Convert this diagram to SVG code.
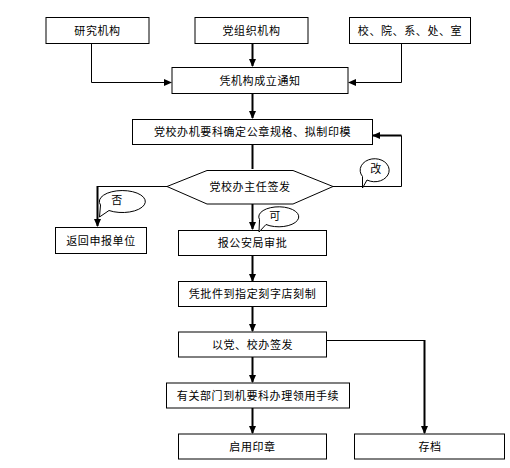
<svg xmlns="http://www.w3.org/2000/svg" width="510" height="468" viewBox="0 0 510 468">
<style>
.box{fill:#fff;stroke:#000;stroke-width:1}
.t{font-family:"Noto Sans CJK SC","Noto Sans CJK JP",sans-serif;font-size:11px;letter-spacing:0.6px;text-anchor:middle;fill:#000}
.thin{fill:none;stroke:#000;stroke-width:1}
.thick{fill:none;stroke:#000;stroke-width:2}
.bub{fill:#fff;stroke:#000;stroke-width:1}
</style>
<defs>
<marker id="ah" markerWidth="8" markerHeight="8" refX="7" refY="4" orient="auto" markerUnits="userSpaceOnUse">
<path d="M0,0.5 L8,4 L0,7.5 Z" fill="#000"/>
</marker>
</defs>
<rect width="510" height="468" fill="#fff"/>
<g id="connectors">
<path class="thin" d="M91.5,43 V82.5 H171" marker-end="url(#ah)"/>
<path class="thick" d="M252.5,43 V66" marker-end="url(#ah)"/>
<path class="thin" d="M401.5,43 V82.5 H349" marker-end="url(#ah)"/>
<path class="thick" d="M252.5,93 V118" marker-end="url(#ah)"/>
<path class="thick" d="M252.5,144 V169"/>
<path class="thin" d="M333,186.5 H401.5 V135.5"/>
<path class="thick" d="M401.5,135.5 H373" marker-end="url(#ah)"/>
<path class="thin" d="M167,186.5 H97.5"/>
<path class="thick" d="M97.5,186 V226" marker-end="url(#ah)"/>
<path class="thick" d="M252.5,204 V229" marker-end="url(#ah)"/>
<path class="thick" d="M252.5,256 V281" marker-end="url(#ah)"/>
<path class="thick" d="M252.5,306 V331" marker-end="url(#ah)"/>
<path class="thin" d="M326,340.5 H424.5"/>
<path class="thick" d="M424.5,340 V433" marker-end="url(#ah)"/>
<path class="thick" d="M252.5,357 V382" marker-end="url(#ah)"/>
<path class="thick" d="M252.5,408 V433" marker-end="url(#ah)"/>
</g>
<g id="n1"><rect class="box" x="46" y="17.5" width="103" height="26"/><text class="t" x="97.5" y="34.5">研究机构</text></g>
<g id="n2"><rect class="box" x="195" y="17.5" width="113" height="26"/><text class="t" x="251.5" y="34.5">党组织机构</text></g>
<g id="n3"><rect class="box" x="349.5" y="17.5" width="121" height="26"/><text class="t" x="410" y="34.5">校、院、系、处、室</text></g>
<g id="n4"><rect class="box" x="172" y="67.5" width="176" height="26"/><text class="t" x="260" y="84.5">凭机构成立通知</text></g>
<g id="n5"><rect class="box" x="132.5" y="119.5" width="240" height="25"/><text class="t" x="252.5" y="136">党校办机要科确定公章规格、拟制印模</text></g>
<g id="n6"><polygon class="box" points="167,186.5 207,170.5 293,170.5 333,186.5 293,204 207,204"/><text class="t" x="250" y="191">党校办主任签发</text></g>
<g id="n7"><rect class="box" x="55.5" y="227.5" width="91" height="26"/><text class="t" x="101" y="244.5">返回申报单位</text></g>
<g id="n8"><rect class="box" x="178.5" y="230.5" width="148" height="25"/><text class="t" x="252.5" y="247">报公安局审批</text></g>
<g id="n9"><rect class="box" x="178.5" y="281.5" width="148" height="25"/><text class="t" x="252.5" y="298">凭批件到指定刻字店刻制</text></g>
<g id="n10"><rect class="box" x="178.5" y="332" width="148" height="25"/><text class="t" x="252.5" y="348.5">以党、校办签发</text></g>
<g id="n11"><rect class="box" x="166.5" y="383" width="183" height="25"/><text class="t" x="258" y="399.5">有关部门到机要科办理领用手续</text></g>
<g id="n12"><rect class="box" x="178.5" y="434" width="148" height="25"/><text class="t" x="252.5" y="450.5">启用印章</text></g>
<g id="n13"><rect class="box" x="354.5" y="434" width="150" height="25"/><text class="t" x="430" y="450.5">存档</text></g>
<g id="b1"><path class="bub" d="M109,210.5 A23,11 0 1 0 100.5,205 L99.5,217 Z"/><text class="t" x="117" y="204">否</text></g>
<g id="b2"><path class="bub" d="M266,224.5 A20,10 0 1 0 259.5,219.5 L259,232 Z"/><text class="t" x="275" y="220">可</text></g>
<g id="b3"><path class="bub" d="M367,180 A14.5,11.5 0 1 0 362.5,176.5 L362.5,188 Z"/><text class="t" x="376" y="173">改</text></g>
</svg>
